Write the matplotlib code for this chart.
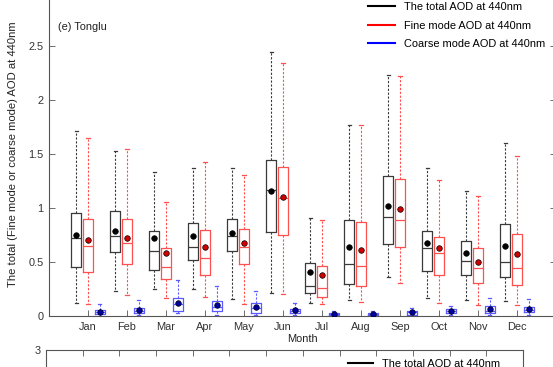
import matplotlib
matplotlib.use("Agg")
import matplotlib.pyplot as plt
from matplotlib.lines import Line2D

plt.rcParams['font.family'] = ['Liberation Sans', 'DejaVu Sans']

months = ["Jan", "Feb", "Mar", "Apr", "May", "Jun", "Jul", "Aug", "Sep", "Oct", "Nov", "Dec"]

# total AOD (lo whisker, q1, median, q3, hi whisker, mean)
tot_lo = [0.12, 0.23, 0.25, 0.25, 0.16, 0.21, 0.12, 0.15, 0.36, 0.17, 0.15, 0.14]
tot_q1 = [0.45, 0.59, 0.43, 0.52, 0.60, 0.78, 0.21, 0.30, 0.67, 0.42, 0.38, 0.36]
tot_med = [0.72, 0.74, 0.60, 0.64, 0.74, 1.17, 0.28, 0.48, 0.92, 0.63, 0.51, 0.50]
tot_q3 = [0.95, 0.97, 0.79, 0.86, 0.90, 1.44, 0.49, 0.89, 1.30, 0.79, 0.69, 0.85]
tot_hi = [1.71, 1.53, 1.33, 1.37, 1.37, 2.44, 0.91, 1.77, 2.23, 1.37, 1.16, 1.60]
tot_mean = [0.75, 0.79, 0.72, 0.74, 0.77, 1.16, 0.41, 0.64, 1.02, 0.68, 0.58, 0.65]

# fine mode AOD
fin_lo = [0.11, 0.19, 0.17, 0.18, 0.11, 0.20, 0.11, 0.13, 0.31, 0.12, 0.10, 0.10]
fin_q1 = [0.41, 0.48, 0.34, 0.38, 0.48, 0.75, 0.18, 0.28, 0.64, 0.38, 0.31, 0.29]
fin_med = [0.65, 0.68, 0.45, 0.54, 0.64, 1.09, 0.26, 0.46, 0.89, 0.58, 0.44, 0.44]
fin_q3 = [0.90, 0.90, 0.63, 0.80, 0.81, 1.38, 0.46, 0.87, 1.27, 0.73, 0.63, 0.76]
fin_hi = [1.65, 1.55, 1.06, 1.43, 1.31, 2.34, 0.89, 1.77, 2.22, 1.26, 1.11, 1.48]
fin_mean = [0.70, 0.72, 0.58, 0.64, 0.68, 1.10, 0.38, 0.61, 0.99, 0.63, 0.50, 0.57]

# coarse mode AOD
crs_lo = [0.0, 0.005, 0.025, 0.01, 0.01, 0.01, 0.0, 0.0, 0.0, 0.005, 0.01, 0.01]
crs_q1 = [0.02, 0.025, 0.05, 0.05, 0.03, 0.03, 0.006, 0.008, 0.01, 0.03, 0.03, 0.034]
crs_med = [0.04, 0.05, 0.11, 0.085, 0.075, 0.05, 0.02, 0.02, 0.035, 0.045, 0.05, 0.055]
crs_q3 = [0.06, 0.077, 0.165, 0.14, 0.118, 0.068, 0.03, 0.03, 0.05, 0.062, 0.093, 0.086]
crs_hi = [0.11, 0.15, 0.33, 0.28, 0.23, 0.12, 0.046, 0.045, 0.077, 0.095, 0.17, 0.16]
crs_mean = [0.04, 0.056, 0.12, 0.10, 0.086, 0.055, 0.02, 0.02, 0.035, 0.046, 0.065, 0.068]

W, H = 553, 367
fs = 7.9
fig = plt.figure(figsize=(W / 100, H / 100), dpi=100)
ax = fig.add_axes([49 / W, (H - 316) / H, 507 / W, 324 / H])

axcol = '#555555'


def draw(lo, q1, med, q3, hi, mean, offset, col, mface):
    stats = []
    for i in range(12):
        stats.append(dict(whislo=lo[i], q1=q1[i], med=med[i], q3=q3[i], whishi=hi[i], fliers=[]))
    pos = [m + 1 + offset for m in range(12)]
    ax.bxp(stats, positions=pos, widths=0.25, showfliers=False, manage_ticks=False,
           boxprops=dict(color=col, linewidth=0.9),
           medianprops=dict(color=col, linewidth=0.9),
           whiskerprops=dict(color=col, linewidth=0.8, linestyle=(0, (2, 1.5))),
           capprops=dict(color=col, linewidth=0.9), capwidths=0.08)
    ax.plot(pos, mean, linestyle='none', marker='o', markersize=4,
            markerfacecolor=mface, markeredgecolor='black', markeredgewidth=0.5, zorder=5)


draw(tot_lo, tot_q1, tot_med, tot_q3, tot_hi, tot_mean, -0.3, '#3a3a3a', 'black')
draw(fin_lo, fin_q1, fin_med, fin_q3, fin_hi, fin_mean, 0.0, '#ff5050', '#d00000')
draw(crs_lo, crs_q1, crs_med, crs_q3, crs_hi, crs_mean, 0.3, '#5a5aff', '#0000a0')

ax.set_xlim(0, 13)
ax.set_ylim(0, 3)
ax.set_xticks(range(1, 13))
ax.set_xticklabels(months)
# the 3 tick sits above the cropped picture
ax.set_yticks([0, 0.5, 1, 1.5, 2, 2.5])
ax.set_yticklabels(['0', '0.5', '1', '1.5', '2', '2.5'])
ax.tick_params(direction='in', length=4, width=0.6, colors=axcol, labelcolor='#333333',
               labelsize=fs, top=True, right=True, pad=4)
for s in ax.spines.values():
    s.set_color(axcol)
    s.set_linewidth(0.8)
ax.set_xlabel('Month', fontsize=fs, color='#222222', labelpad=2)
ax.set_ylabel('The total (Fine mode or coarse mode) AOD at 440nm', fontsize=8.1, color='#222222')
ax.yaxis.set_label_coords(-0.061, 0.5)
ax.text(0.018, 0.892, '(e) Tonglu', transform=ax.transAxes, fontsize=fs, va='center', color='#222222')

handles = [Line2D([], [], color='black', lw=1.5),
           Line2D([], [], color='red', lw=1.5),
           Line2D([], [], color='blue', lw=1.5)]
labels = ['The total AOD at 440nm', 'Fine mode AOD at 440nm', 'Coarse mode AOD at 440nm']
fig.legend(handles, labels, loc='upper left', bbox_to_anchor=(368 / W, 1 - 2 / H),
           frameon=False, fontsize=fs, borderpad=0, borderaxespad=0,
           handlelength=2.5, handletextpad=0.8, labelspacing=0.78)

# next panel (cut off at the bottom of the picture)
ax2 = fig.add_axes([46 / W, -0.9, 477 / W, 0.9 + 17 / H])
ax2.set_xlim(0, 13)
ax2.set_ylim(0, 3)
ax2.set_xticks(range(1, 13))
ax2.set_yticks([3])
ax2.set_yticklabels(['3'])
ax2.tick_params(direction='in', length=4, width=0.6, colors=axcol, labelcolor='#333333',
                labelsize=fs, top=True, right=True, pad=4, labelbottom=False)
for s in ax2.spines.values():
    s.set_color(axcol)
    s.set_linewidth(0.8)
fig.legend(handles[:1], labels[:1], loc='upper left', bbox_to_anchor=(348 / W, 1 - 359 / H),
           frameon=False, fontsize=fs, borderpad=0, borderaxespad=0,
           handlelength=2.3, handletextpad=0.8)

fig.savefig('out.png', dpi=100)
